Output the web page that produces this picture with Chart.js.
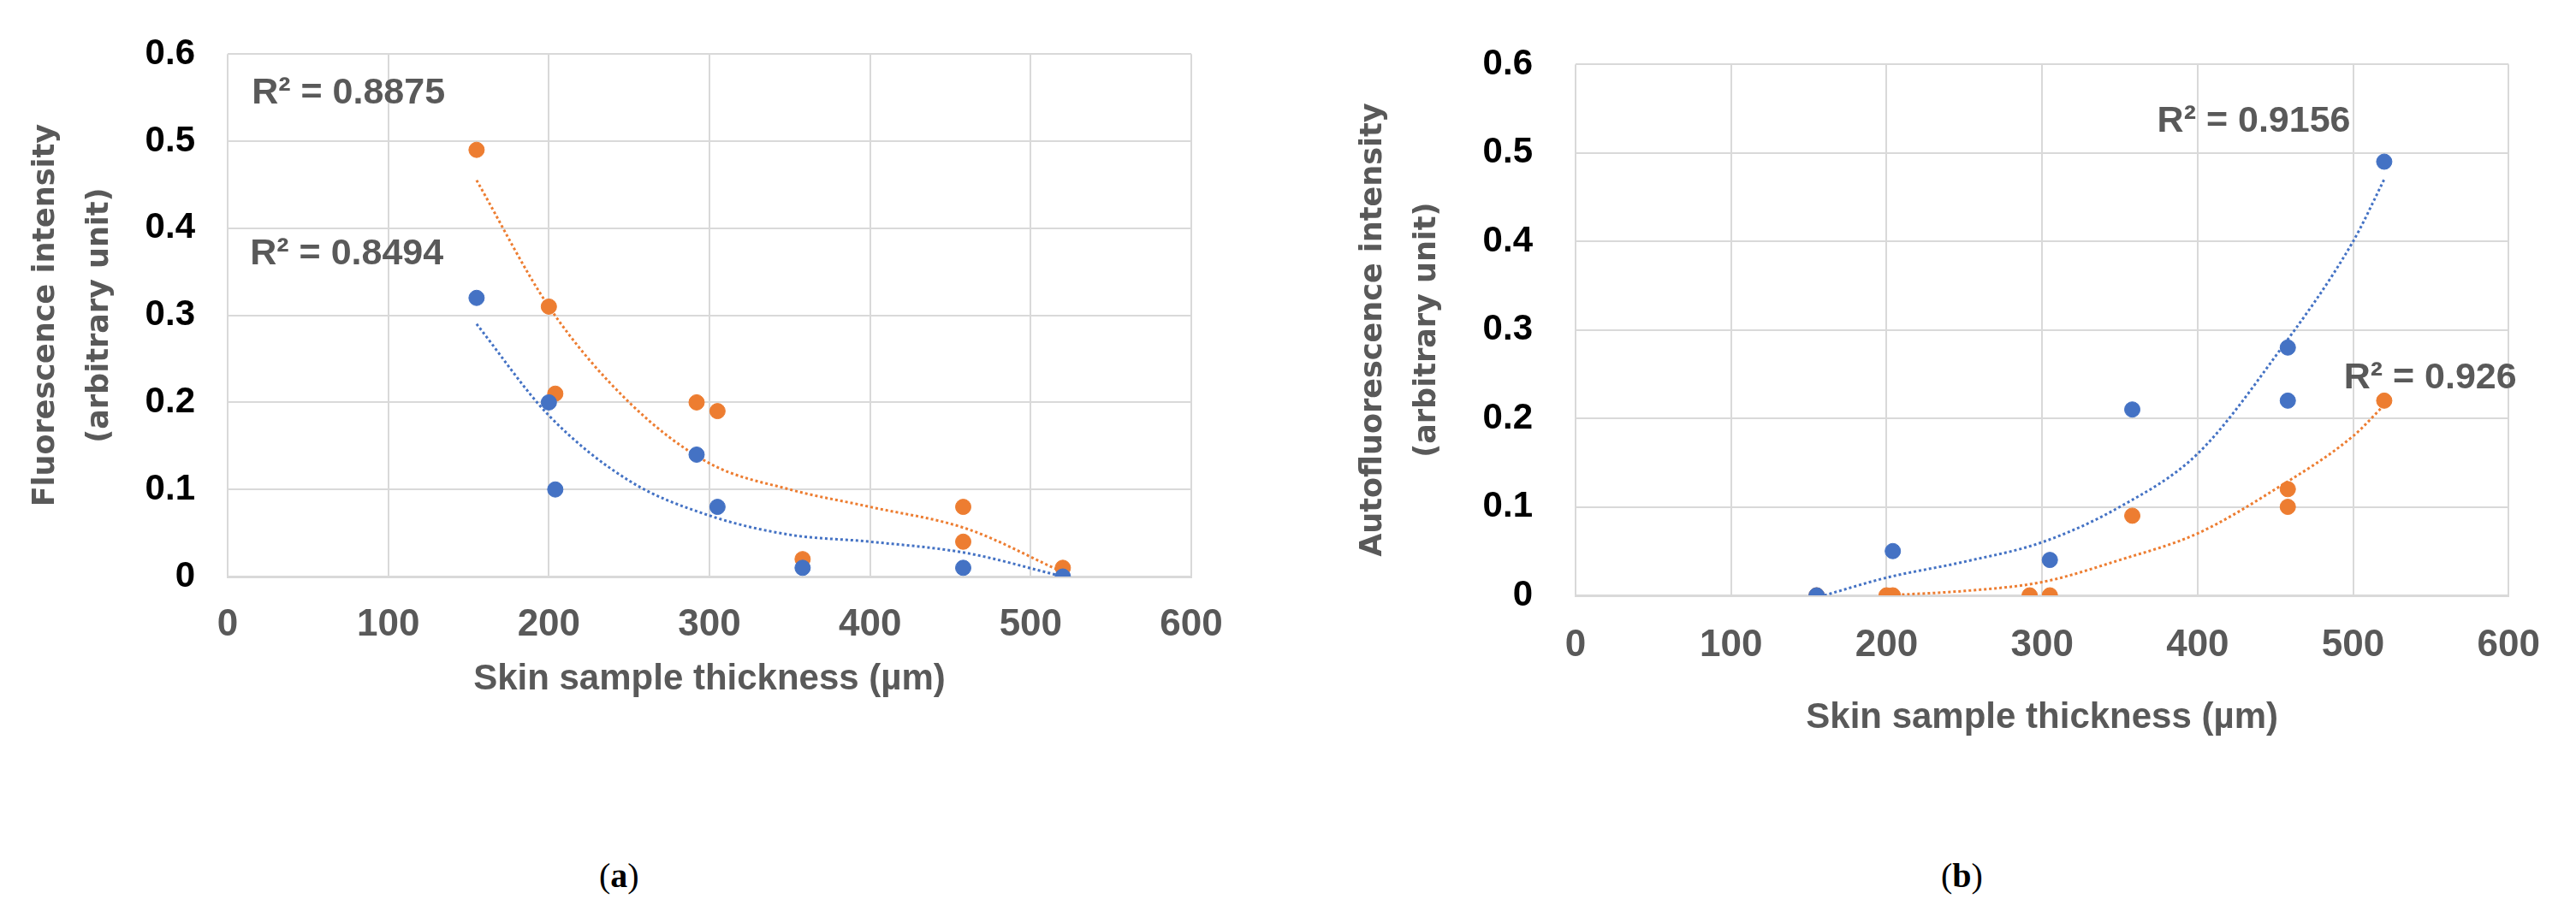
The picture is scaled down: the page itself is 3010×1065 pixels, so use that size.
<!DOCTYPE html>
<html>
<head>
<meta charset="utf-8">
<script src="https://cdn.jsdelivr.net/npm/chart.js@4/dist/chart.umd.min.js"></script>
<style>
body { margin: 0; background: #fff; width: 3010px; height: 1065px; position: relative; overflow: hidden; }
.box { position: absolute; top: 0; height: 880px; }
.cap { position: absolute; font-family: "Liberation Serif", serif; font-size: 40px; top: 1000px; }
</style>
</head>
<body>
<div class="box" style="left:0;width:1460px"><canvas id="chartA"></canvas></div>
<div class="box" style="left:1500px;width:1500px"><canvas id="chartB"></canvas></div>
<div class="cap" style="left:700px">(<b>a</b>)</div>
<div class="cap" style="left:2268px">(<b>b</b>)</div>
<script>
// panel (a): fluorescence
var aOrangeX = [155, 200, 204, 292, 305, 358, 458, 458, 520];
var aOrangeY = [0.49, 0.31, 0.21, 0.20, 0.19, 0.02, 0.08, 0.04, 0.01];
var aBlueX = [155, 200, 204, 292, 305, 358, 458, 520];
var aBlueY = [0.32, 0.20, 0.10, 0.14, 0.08, 0.01, 0.01, 0];
var aOrangeTrendX = [155, 200, 250, 300, 350, 400, 460, 520];
var aOrangeTrendY = [0.455, 0.31, 0.20, 0.13, 0.10, 0.08, 0.055, 0.005];
var aBlueTrendX = [155, 200, 250, 300, 350, 400, 460, 520];
var aBlueTrendY = [0.29, 0.185, 0.11, 0.07, 0.048, 0.04, 0.027, 0];

// panel (b): autofluorescence
var bBlueX = [155, 204, 305, 358, 458, 458, 520];
var bBlueY = [0, 0.05, 0.04, 0.21, 0.28, 0.22, 0.49];
var bOrangeX = [155, 200, 204, 292, 305, 358, 458, 458, 520];
var bOrangeY = [0, 0, 0, 0, 0, 0.09, 0.12, 0.10, 0.22];
var bBlueTrendX = [160, 200, 250, 300, 350, 400, 450, 500, 520];
var bBlueTrendY = [0, 0.02, 0.038, 0.06, 0.1, 0.16, 0.27, 0.40, 0.47];
var bOrangeTrendX = [200, 250, 300, 350, 400, 450, 500, 520];
var bOrangeTrendY = [0, 0.005, 0.015, 0.04, 0.07, 0.12, 0.18, 0.215];

var xTicks = [0, 100, 200, 300, 400, 500, 600];
var yTicks = [0, 0.1, 0.2, 0.3, 0.4, 0.5, 0.6];

var BLUE = '#4472c4';
var ORANGE = '#ed7d31';
var NARROW = '"Liberation Sans Narrow", "Liberation Sans", sans-serif';

function pts(xs, ys) {
    return xs.map(function (x, i) { return {x: x, y: ys[i]}; });
}

function scatter(xs, ys, color) {
    return {type: 'scatter', data: pts(xs, ys), backgroundColor: color, borderColor: color,
        pointRadius: 9, pointHoverRadius: 9, order: 1};
}

function trend(xs, ys, color) {
    return {type: 'line', data: pts(xs, ys), borderColor: color, borderWidth: 3,
        borderDash: [3, 3], pointRadius: 0, fill: false, cubicInterpolationMode: 'monotone', order: 2};
}

var labelPlugin = {
    id: 'rLabels',
    afterDatasetsDraw: function (chart) {
        var ctx = chart.ctx;
        var labels = chart.options.plugins.rLabels.items;
        ctx.save();
        ctx.font = 'bold 43px ' + NARROW;
        ctx.fillStyle = '#595959';
        ctx.textBaseline = 'middle';
        labels.forEach(function (l) {
            ctx.fillText(l.text, chart.scales.x.getPixelForValue(l.x), chart.scales.y.getPixelForValue(l.y));
        });
        ctx.restore();
    }
};

// g: geometry of one panel (axis sizes and paddings)
function makeChart(id, datasets, yTitle, labels, g) {
    return new Chart(document.getElementById(id), {
        data: {datasets: datasets},
        plugins: [labelPlugin],
        options: {
            responsive: true,
            maintainAspectRatio: false,
            animation: false,
            layout: {padding: {left: 0, top: g.top, right: g.right, bottom: 0}},
            plugins: {legend: {display: false}, tooltip: {enabled: false}, rLabels: {items: labels}},
            scales: {
                x: {
                    type: 'linear', min: 0, max: 600,
                    afterBuildTicks: function (s) { s.ticks = xTicks.map(function (v) { return {value: v}; }); },
                    afterFit: function (s) { s.height = g.xHeight; },
                    grid: {color: '#d9d9d9', lineWidth: 2, drawTicks: false},
                    border: {color: '#d9d9d9', width: 3},
                    ticks: {color: '#595959', padding: g.xTickPad, font: {size: 44, weight: 'bold', family: NARROW}},
                    title: {display: true, text: 'Skin sample thickness (µm)', color: '#595959',
                        padding: {top: 0, bottom: g.xTitlePad},
                        font: {size: 42, weight: 'bold', family: NARROW}}
                },
                y: {
                    type: 'linear', min: 0, max: 0.6,
                    afterBuildTicks: function (s) { s.ticks = yTicks.map(function (v) { return {value: v}; }); },
                    afterFit: function (s) { s.width = g.yWidth; },
                    grid: {color: '#d9d9d9', lineWidth: 2, drawTicks: false},
                    border: {display: false},
                    ticks: {color: '#000', padding: g.yTickPad, font: {size: 42, weight: 'bold', family: NARROW}},
                    title: {display: true, text: yTitle, color: '#595959', padding: {top: g.yTitlePad, bottom: 0},
                        font: {size: 35, weight: 'bold', family: '"DejaVu Sans", sans-serif', lineHeight: 1.8}}
                }
            }
        }
    });
}

makeChart('chartA', [
    scatter(aBlueX, aBlueY, BLUE),
    scatter(aOrangeX, aOrangeY, ORANGE),
    trend(aBlueTrendX, aBlueTrendY, BLUE),
    trend(aOrangeTrendX, aOrangeTrendY, ORANGE)
], ['Fluorescence intensity', '(arbitrary unit)'],
    [{text: 'R² = 0.8875', x: 15, y: 0.555}, {text: 'R² = 0.8494', x: 14, y: 0.37}],
    {top: 29, right: 68, xHeight: 206, xTickPad: 30, xTitlePad: 60, yWidth: 266, yTickPad: 38, yTitlePad: 22});

makeChart('chartB', [
    scatter(bBlueX, bBlueY, BLUE),
    scatter(bOrangeX, bOrangeY, ORANGE),
    trend(bBlueTrendX, bBlueTrendY, BLUE),
    trend(bOrangeTrendX, bOrangeTrendY, ORANGE)
], ['Autofluorescence intensity', '(arbitrary unit)'],
    [{text: 'R² = 0.9156', x: 374, y: 0.535}, {text: 'R² = 0.926', x: 494, y: 0.245}],
    {top: 49, right: 33, xHeight: 184, xTickPad: 32, xTitlePad: 15, yWidth: 341, yTickPad: 50, yTitlePad: 73});
</script>
</body>
</html>
